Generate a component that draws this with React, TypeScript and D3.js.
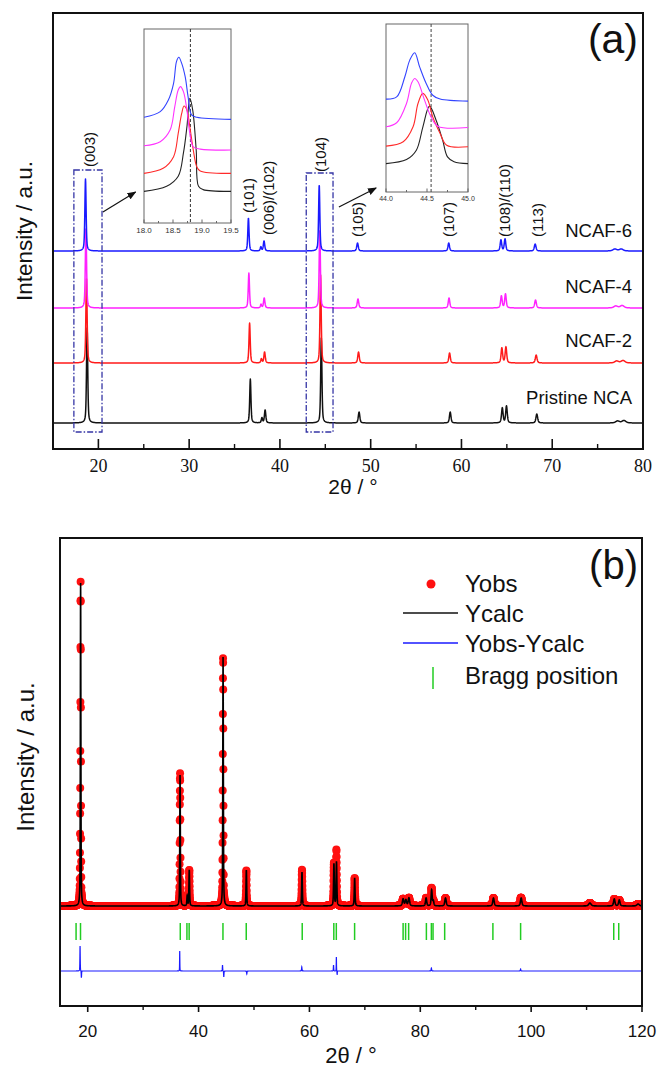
import React from 'react';
import * as d3 from 'd3';

// ---------------- Panel (a) data ----------------
const seriesA = ['Pristine NCA', 'NCAF-2', 'NCAF-4', 'NCAF-6'];
const colorsA = ['#111111', '#ff1a1a', '#ff22ff', '#1a1aff'];
const offsetsA = [26, 86, 141, 198];
const labelYA = [45, 102, 156, 212];

// peak tables: [2θ, height (a.u.), FWHM (°)]
const peaksPristine = [[18.76, 95, 0.16], [36.74, 44, 0.16], [38.02, 5, 0.16], [38.37, 13, 0.18], [44.56, 85, 0.16], [48.72, 11, 0.2], [58.76, 11, 0.2], [64.5, 15, 0.2], [64.96, 17, 0.2], [68.3, 9, 0.22], [77.2, 2, 0.5], [77.9, 2.5, 0.5]];
const peaksNCAF2 = [[18.69, 85, 0.16], [36.66, 40, 0.16], [37.96, 4, 0.16], [38.31, 11, 0.18], [44.48, 88, 0.16], [48.66, 11, 0.2], [58.69, 10, 0.2], [64.45, 15, 0.2], [64.9, 16, 0.2], [68.23, 8, 0.22], [77.1, 2, 0.5], [77.8, 2.5, 0.5]];
const peaksNCAF4 = [[18.63, 80, 0.16], [36.58, 35, 0.16], [37.92, 3.5, 0.16], [38.27, 10, 0.18], [44.39, 78, 0.16], [48.6, 9, 0.2], [58.63, 10, 0.2], [64.4, 12, 0.2], [64.85, 14, 0.2], [68.16, 8, 0.22], [77.0, 2, 0.5], [77.7, 2.5, 0.5]];
const peaksNCAF6 = [[18.58, 72, 0.16], [36.53, 33, 0.16], [37.9, 4, 0.16], [38.25, 10, 0.18], [44.33, 66, 0.16], [48.55, 8, 0.2], [58.6, 8, 0.2], [64.35, 11, 0.2], [64.8, 12, 0.2], [68.12, 7, 0.22], [76.9, 2, 0.5], [77.6, 2, 0.5]];
const peaksA = [peaksPristine, peaksNCAF2, peaksNCAF4, peaksNCAF6];

const xTicksA = [20, 30, 40, 50, 60, 70, 80];
const xMinorA = [25, 35, 45, 55, 65, 75];

const hklLabels = ['(003)', '(101)', '(006)/(102)', '(104)', '(105)', '(107)', '(108)/(110)', '(113)'];
const hklPos = [19.02, 36.54, 38.74, 44.47, 48.55, 58.57, 64.74, 68.38];
const hklBottom = [282, 236, 214, 277, 212, 212, 212, 212];

// highlighted regions [2θ from, 2θ to, a.u. bottom, a.u. top]
const boxesA = [[17.3, 20.4, 17, 279], [42.9, 45.85, 17, 276]];
// arrows [2θ start, a.u. start, 2θ end, a.u. end]
const arrowsA = [[20.5, 237, 24.1, 257], [46.5, 242, 50.6, 261]];

// Inset 1 (003) curves: [2θ, intensity]
const inset1Ticks = [18.0, 18.5, 19.0, 19.5];
const inset1Minor = [18.25, 18.75, 19.25];
const inset1Ref = 18.8;
const inset1Blue = [[18.0, 54.5], [18.28, 57.4], [18.42, 63.4], [18.51, 72.0], [18.56, 83.2], [18.6, 85.4], [18.65, 82.3], [18.71, 75.4], [18.76, 65.1], [18.82, 55.7], [18.91, 54.5], [19.5, 53.4]];
const inset1Magenta = [[18.0, 39.8], [18.28, 41.9], [18.45, 47.9], [18.53, 59.9], [18.59, 68.6], [18.63, 70.3], [18.68, 67.7], [18.74, 58.2], [18.79, 46.2], [18.85, 39.3], [18.97, 38.1], [19.5, 37.6]];
const inset1Red = [[18.0, 25.6], [18.33, 28.2], [18.51, 34.2], [18.59, 46.2], [18.65, 56.5], [18.69, 60.3], [18.74, 58.2], [18.79, 49.6], [18.85, 37.6], [18.91, 29.0], [18.97, 26.8], [19.5, 25.6]];
const inset1Black = [[18.0, 16.3], [18.39, 18.9], [18.59, 24.1], [18.68, 36.1], [18.74, 49.6], [18.79, 64.3], [18.84, 58.2], [18.9, 37.6], [18.94, 18.9], [19.02, 17.2], [19.5, 16.3]];

// Inset 2 (104) curves
const inset2Ticks = [44.0, 44.5, 45.0];
const inset2Minor = [44.25, 44.75];
const inset2Ref = 44.55;
const inset2Blue = [[44.0, 55.3], [44.13, 56.6], [44.23, 68.6], [44.29, 78.5], [44.35, 82.9], [44.41, 74.5], [44.49, 64.6], [44.57, 57.6], [44.66, 55.3], [45.0, 54.1]];
const inset2Magenta = [[44.0, 38.8], [44.13, 41.2], [44.25, 52.7], [44.31, 64.6], [44.35, 67.6], [44.39, 65.6], [44.47, 54.7], [44.55, 44.7], [44.63, 39.2], [45.0, 38.4]];
const inset2Red = [[44.0, 27.3], [44.21, 29.9], [44.33, 38.8], [44.39, 52.7], [44.45, 58.7], [44.51, 54.7], [44.57, 44.7], [44.66, 34.8], [44.74, 27.8], [45.0, 26.9]];
const inset2Black = [[44.0, 16.9], [44.25, 19.3], [44.37, 24.9], [44.45, 38.8], [44.53, 51.1], [44.61, 42.9], [44.69, 31.0], [44.75, 20.9], [44.83, 18.0], [45.0, 16.9]];

// ---------------- Panel (b) data ----------------
const calcPeaksB = [[18.72, 323, 0.11], [36.66, 131, 0.12], [37.95, 10, 0.14], [38.32, 36, 0.14], [44.42, 249, 0.12], [48.62, 36, 0.14], [58.66, 34, 0.15], [64.42, 42, 0.16], [64.88, 44, 0.16], [68.16, 28, 0.16], [76.9, 7, 0.3], [77.4, 6, 0.3], [77.95, 8, 0.3], [81.05, 8, 0.25], [82.05, 16, 0.22], [82.35, 5, 0.22], [84.55, 8, 0.3], [93.2, 8, 0.3], [98.2, 8, 0.3], [110.6, 3, 0.5], [115.0, 7, 0.3], [115.9, 6, 0.3], [119.3, 2, 0.5]];
const diffSpikesB = [[18.62, 25, 0.07], [18.86, -7, 0.07], [36.6, 20, 0.05], [44.32, 6, 0.07], [44.55, -6, 0.07], [48.7, -3, 0.08], [58.62, 4, 0.08], [64.35, 6, 0.07], [64.86, 14, 0.05], [65.0, -4, 0.06], [82.0, 3, 0.1], [98.1, 2, 0.1]];
const braggB = [17.9, 18.7, 36.7, 37.9, 38.3, 44.4, 48.6, 58.7, 64.4, 64.85, 68.15, 76.9, 77.35, 77.9, 81.1, 82.0, 82.3, 84.4, 93.1, 98.1, 114.9, 115.8];
const obsBaseB = 100;
const diffBaseB = 35;
const braggRangeB = [66, 83];
const xTicksB = [20, 40, 60, 80, 100, 120];
const xMinorB = [30, 50, 70, 90, 110];
const legendB = ['Yobs', 'Ycalc', 'Yobs-Ycalc', 'Bragg position'];

// ---------------- helpers ----------------
function profile(x: number, peaks: number[][]) {
  let s = 0;
  for (const [c, h, w] of peaks) {
    const t = (x - c) / w;
    const L = 1 / (1 + 4 * t * t);
    const G = Math.exp(-4 * Math.LN2 * t * t);
    s += h * (0.5 * L + 0.5 * G);
  }
  return s;
}

const SANS = '"Liberation Sans", Arial, Helvetica, sans-serif';
const SERIF = '"Liberation Serif", "Times New Roman", serif';

export default function App() {
  // Panel (a) scales
  const ax0 = 53, ax1 = 643, ay0 = 13, ay1 = 449;
  const xA = d3.scaleLinear().domain([15, 80]).range([ax0, ax1]);
  const yA = d3.scaleLinear().domain([0, 436]).range([ay1, ay0]);
  const gridA = d3.range(15, 80.0001, 0.02);

  const linesA = peaksA.map((pk, i) => {
    const pts = gridA.map((x) => [x, offsetsA[i] + profile(x, pk)]);
    return d3.line<number[]>().x((d) => xA(d[0])).y((d) => yA(d[1]))(pts) || '';
  });

  // Insets
  const in1 = { x0: 144, x1: 231, y0: 29, y1: 223 };
  const in2 = { x0: 386, x1: 468, y0: 24, y1: 192 };
  const xI1 = d3.scaleLinear().domain([18, 19.5]).range([in1.x0, in1.x1]);
  const yI1 = d3.scaleLinear().domain([0, 100]).range([in1.y1, in1.y0]);
  const xI2 = d3.scaleLinear().domain([44, 45]).range([in2.x0, in2.x1]);
  const yI2 = d3.scaleLinear().domain([0, 100]).range([in2.y1, in2.y0]);
  const lineI1 = d3.line<number[]>().x((d) => xI1(d[0])).y((d) => yI1(d[1])).curve(d3.curveCatmullRom.alpha(0.5));
  const lineI2 = d3.line<number[]>().x((d) => xI2(d[0])).y((d) => yI2(d[1])).curve(d3.curveCatmullRom.alpha(0.5));
  const inset1Series = [inset1Black, inset1Red, inset1Magenta, inset1Blue];
  const inset2Series = [inset2Black, inset2Red, inset2Magenta, inset2Blue];
  const insetColors = ['#222222', '#ff2a2a', '#ff33ff', '#3344ff'];

  // Panel (b) scales
  const bx0 = 60, bx1 = 642, by0 = 538, by1 = 1006;
  const xB = d3.scaleLinear().domain([15, 120]).range([bx0, bx1]);
  const yB = d3.scaleLinear().domain([0, 468]).range([by1, by0]);
  const gridCalc = d3.range(15, 120.0001, 0.01);
  const gridObs = d3.range(15, 120.0001, 0.015);
  const calcPath = d3.line<number[]>().x((d) => xB(d[0])).y((d) => yB(d[1]))(
    gridCalc.map((x) => [x, obsBaseB + profile(x, calcPeaksB)])
  ) || '';
  const diffPath = d3.line<number[]>().x((d) => xB(d[0])).y((d) => yB(d[1]))(
    gridCalc.map((x) => [x, diffBaseB + profile(x, diffSpikesB)])
  ) || '';
  const obsPts = gridObs.map((x) => [x, obsBaseB + profile(x, calcPeaksB) + profile(x, diffSpikesB)]);

  return (
    <svg width={661} height={1068} style={{ position: 'absolute', left: 0, top: 0, display: 'block', background: '#fff' }}>
      <defs>
        <marker id="arr" viewBox="0 0 10 10" refX="9" refY="5" markerWidth="9" markerHeight="9" orient="auto" markerUnits="userSpaceOnUse">
          <path d="M0,1 L10,5 L0,9 Z" fill="#111" />
        </marker>
        <clipPath id="clipA"><rect x={ax0} y={ay0} width={ax1 - ax0} height={ay1 - ay0} /></clipPath>
        <clipPath id="clipB"><rect x={bx0} y={by0} width={bx1 - bx0} height={by1 - by0} /></clipPath>
        <clipPath id="clipI1"><rect x={in1.x0} y={in1.y0} width={in1.x1 - in1.x0} height={in1.y1 - in1.y0} /></clipPath>
        <clipPath id="clipI2"><rect x={in2.x0} y={in2.y0} width={in2.x1 - in2.x0} height={in2.y1 - in2.y0} /></clipPath>
      </defs>
      <rect x={0} y={0} width={661} height={1068} fill="#fff" />

      {/* ================= Panel (a) ================= */}
      <g clipPath="url(#clipA)">
        {linesA.map((p, i) => (
          <path key={i} d={p} fill="none" stroke={colorsA[i]} strokeWidth={1.5} strokeLinejoin="round" />
        ))}
      </g>
      {boxesA.map((b, i) => (
        <rect key={i} x={xA(b[0])} y={yA(b[3])} width={xA(b[1]) - xA(b[0])} height={yA(b[2]) - yA(b[3])}
          fill="none" stroke="#3535a5" strokeWidth={1.3} strokeDasharray="6,2,1.5,2" />
      ))}
      {arrowsA.map((a, i) => (
        <line key={i} x1={xA(a[0])} y1={yA(a[1])} x2={xA(a[2])} y2={yA(a[3])} stroke="#111" strokeWidth={1.2} markerEnd="url(#arr)" />
      ))}
      {hklLabels.map((t, i) => (
        <text key={i} transform={`translate(${xA(hklPos[i])},${yA(hklBottom[i])}) rotate(-90)`} dy="0.35em"
          fontFamily={SANS} fontSize={15} fill="#111">{t}</text>
      ))}
      {seriesA.map((s, i) => (
        <text key={i} x={632} y={yA(labelYA[i])} textAnchor="end" fontFamily={SANS} fontSize={18.5} fill="#111">{s}</text>
      ))}
      {/* frame */}
      <rect x={ax0} y={ay0} width={ax1 - ax0} height={ay1 - ay0} fill="none" stroke="#111" strokeWidth={2} />
      {xTicksA.map((t) => (
        <g key={t}>
          <line x1={xA(t)} x2={xA(t)} y1={ay1} y2={ay1 - 10} stroke="#111" strokeWidth={1.6} />
          <text x={xA(t)} y={472} textAnchor="middle" fontFamily={SERIF} fontSize={18} fill="#111">{t}</text>
        </g>
      ))}
      {xMinorA.map((t) => (
        <line key={t} x1={xA(t)} x2={xA(t)} y1={ay1} y2={ay1 - 5} stroke="#111" strokeWidth={1.4} />
      ))}
      <text x={353} y={494} textAnchor="middle" fontFamily={SANS} fontSize={21} fill="#111">2θ / °</text>
      <text transform={`translate(32,${(ay0 + ay1) / 2}) rotate(-90)`} textAnchor="middle" fontFamily={SANS} fontSize={22.5} fill="#111">Intensity / a.u.</text>
      <text x={638} y={53} textAnchor="end" fontFamily={SANS} fontSize={41} fill="#111">(a)</text>

      {/* Inset 1 */}
      <rect x={in1.x0} y={in1.y0} width={in1.x1 - in1.x0} height={in1.y1 - in1.y0} fill="#fff" stroke="#666" strokeWidth={1} />
      <g clipPath="url(#clipI1)">
        <line x1={xI1(inset1Ref)} x2={xI1(inset1Ref)} y1={in1.y0} y2={in1.y1} stroke="#333" strokeWidth={1} strokeDasharray="3,2" />
        {inset1Series.map((s, i) => (
          <path key={i} d={lineI1(s) || ''} fill="none" stroke={insetColors[i]} strokeWidth={1.1} />
        ))}
      </g>
      {inset1Ticks.map((t) => (
        <g key={t}>
          <line x1={xI1(t)} x2={xI1(t)} y1={in1.y1} y2={in1.y1 - 3.5} stroke="#666" />
          <text x={xI1(t)} y={233} textAnchor="middle" fontFamily={SANS} fontSize={8} fill="#333">{t.toFixed(1)}</text>
        </g>
      ))}
      {inset1Minor.map((t) => (
        <line key={t} x1={xI1(t)} x2={xI1(t)} y1={in1.y1} y2={in1.y1 - 2} stroke="#666" />
      ))}

      {/* Inset 2 */}
      <rect x={in2.x0} y={in2.y0} width={in2.x1 - in2.x0} height={in2.y1 - in2.y0} fill="#fff" stroke="#666" strokeWidth={1} />
      <g clipPath="url(#clipI2)">
        <line x1={xI2(inset2Ref)} x2={xI2(inset2Ref)} y1={in2.y0} y2={in2.y1} stroke="#444" strokeWidth={1} strokeDasharray="3,2" />
        {inset2Series.map((s, i) => (
          <path key={i} d={lineI2(s) || ''} fill="none" stroke={insetColors[i]} strokeWidth={1.1} />
        ))}
      </g>
      {inset2Ticks.map((t) => (
        <g key={t}>
          <line x1={xI2(t)} x2={xI2(t)} y1={in2.y1} y2={in2.y1 - 3.5} stroke="#666" />
          <text x={xI2(t)} y={201} textAnchor="middle" fontFamily={SANS} fontSize={7} fill="#333">{t.toFixed(1)}</text>
        </g>
      ))}
      {inset2Minor.map((t) => (
        <line key={t} x1={xI2(t)} x2={xI2(t)} y1={in2.y1} y2={in2.y1 - 2} stroke="#666" />
      ))}

      {/* ================= Panel (b) ================= */}
      <g clipPath="url(#clipB)">
        {obsPts.map((d, i) => (
          <circle key={i} cx={xB(d[0])} cy={yB(d[1])} r={4} fill="#ff1010" />
        ))}
        <path d={calcPath} fill="none" stroke="#000" strokeWidth={1.6} />
        {braggB.map((b, i) => (
          <line key={i} x1={xB(b)} x2={xB(b)} y1={yB(braggRangeB[0])} y2={yB(braggRangeB[1])} stroke="#22cc22" strokeWidth={1.5} />
        ))}
        <path d={diffPath} fill="none" stroke="#1a1aff" strokeWidth={1.2} />
      </g>
      <rect x={bx0} y={by0} width={bx1 - bx0} height={by1 - by0} fill="none" stroke="#111" strokeWidth={2} />
      {xTicksB.map((t) => (
        <g key={t}>
          <line x1={xB(t)} x2={xB(t)} y1={by1} y2={by1 + 6} stroke="#111" strokeWidth={1.6} />
          <text x={xB(t)} y={1037} textAnchor="middle" fontFamily={SANS} fontSize={17} fill="#111">{t}</text>
        </g>
      ))}
      {xMinorB.map((t) => (
        <line key={t} x1={xB(t)} x2={xB(t)} y1={by1} y2={by1 + 4} stroke="#111" strokeWidth={1.4} />
      ))}
      <text x={(bx0 + bx1) / 2} y={1063} textAnchor="middle" fontFamily={SANS} fontSize={22} fill="#111">2θ / °</text>
      <text transform={`translate(34,757) rotate(-90)`} textAnchor="middle" fontFamily={SANS} fontSize={24} fill="#111">Intensity / a.u.</text>
      <text x={638} y={579} textAnchor="end" fontFamily={SANS} fontSize={40} fill="#111">(b)</text>

      {/* legend */}
      <circle cx={431} cy={584} r={4.5} fill="#ff1010" />
      <line x1={403} x2={458} y1={613} y2={613} stroke="#111" strokeWidth={1.5} />
      <line x1={403} x2={458} y1={643} y2={643} stroke="#1a1aff" strokeWidth={1.5} />
      <line x1={433} x2={433} y1={667} y2={689} stroke="#22cc22" strokeWidth={1.5} />
      {legendB.map((t, i) => (
        <text key={i} x={465} y={[592, 622, 652, 684][i]} fontFamily={SANS} fontSize={24} fill="#111">{t}</text>
      ))}
    </svg>
  );
}
